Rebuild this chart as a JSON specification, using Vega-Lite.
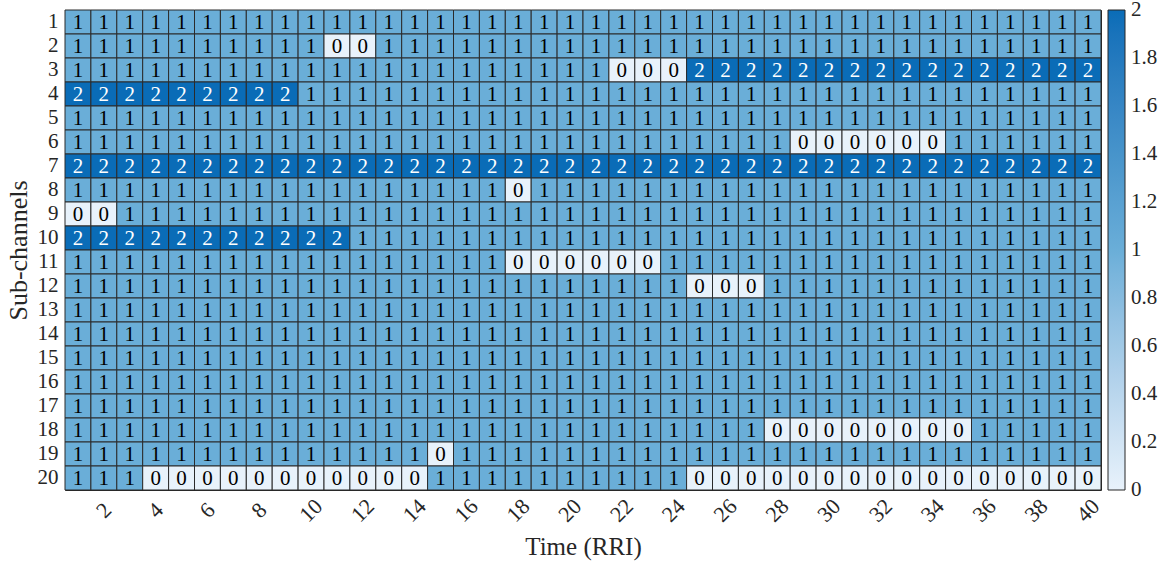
{
"$schema": "https://vega.github.io/schema/vega-lite/v6.json",
"width": 1036,
"height": 480,
"autosize": {"type": "none"},
"padding": {"left": 65, "top": 10, "right": 64, "bottom": 74},
"background": "white",
"config": {"view": {"stroke": "#262626", "strokeWidth": 1}, "font": "Liberation Serif"},
"data": {"values": [
{"t":1,"c":1,"v":1},{"t":2,"c":1,"v":1},{"t":3,"c":1,"v":1},{"t":4,"c":1,"v":1},{"t":5,"c":1,"v":1},{"t":6,"c":1,"v":1},{"t":7,"c":1,"v":1},{"t":8,"c":1,"v":1},{"t":9,"c":1,"v":1},{"t":10,"c":1,"v":1},{"t":11,"c":1,"v":1},{"t":12,"c":1,"v":1},{"t":13,"c":1,"v":1},{"t":14,"c":1,"v":1},{"t":15,"c":1,"v":1},{"t":16,"c":1,"v":1},{"t":17,"c":1,"v":1},{"t":18,"c":1,"v":1},{"t":19,"c":1,"v":1},{"t":20,"c":1,"v":1},{"t":21,"c":1,"v":1},{"t":22,"c":1,"v":1},{"t":23,"c":1,"v":1},{"t":24,"c":1,"v":1},{"t":25,"c":1,"v":1},{"t":26,"c":1,"v":1},{"t":27,"c":1,"v":1},{"t":28,"c":1,"v":1},{"t":29,"c":1,"v":1},{"t":30,"c":1,"v":1},{"t":31,"c":1,"v":1},{"t":32,"c":1,"v":1},{"t":33,"c":1,"v":1},{"t":34,"c":1,"v":1},{"t":35,"c":1,"v":1},{"t":36,"c":1,"v":1},{"t":37,"c":1,"v":1},{"t":38,"c":1,"v":1},{"t":39,"c":1,"v":1},{"t":40,"c":1,"v":1},
{"t":1,"c":2,"v":1},{"t":2,"c":2,"v":1},{"t":3,"c":2,"v":1},{"t":4,"c":2,"v":1},{"t":5,"c":2,"v":1},{"t":6,"c":2,"v":1},{"t":7,"c":2,"v":1},{"t":8,"c":2,"v":1},{"t":9,"c":2,"v":1},{"t":10,"c":2,"v":1},{"t":11,"c":2,"v":0},{"t":12,"c":2,"v":0},{"t":13,"c":2,"v":1},{"t":14,"c":2,"v":1},{"t":15,"c":2,"v":1},{"t":16,"c":2,"v":1},{"t":17,"c":2,"v":1},{"t":18,"c":2,"v":1},{"t":19,"c":2,"v":1},{"t":20,"c":2,"v":1},{"t":21,"c":2,"v":1},{"t":22,"c":2,"v":1},{"t":23,"c":2,"v":1},{"t":24,"c":2,"v":1},{"t":25,"c":2,"v":1},{"t":26,"c":2,"v":1},{"t":27,"c":2,"v":1},{"t":28,"c":2,"v":1},{"t":29,"c":2,"v":1},{"t":30,"c":2,"v":1},{"t":31,"c":2,"v":1},{"t":32,"c":2,"v":1},{"t":33,"c":2,"v":1},{"t":34,"c":2,"v":1},{"t":35,"c":2,"v":1},{"t":36,"c":2,"v":1},{"t":37,"c":2,"v":1},{"t":38,"c":2,"v":1},{"t":39,"c":2,"v":1},{"t":40,"c":2,"v":1},
{"t":1,"c":3,"v":1},{"t":2,"c":3,"v":1},{"t":3,"c":3,"v":1},{"t":4,"c":3,"v":1},{"t":5,"c":3,"v":1},{"t":6,"c":3,"v":1},{"t":7,"c":3,"v":1},{"t":8,"c":3,"v":1},{"t":9,"c":3,"v":1},{"t":10,"c":3,"v":1},{"t":11,"c":3,"v":1},{"t":12,"c":3,"v":1},{"t":13,"c":3,"v":1},{"t":14,"c":3,"v":1},{"t":15,"c":3,"v":1},{"t":16,"c":3,"v":1},{"t":17,"c":3,"v":1},{"t":18,"c":3,"v":1},{"t":19,"c":3,"v":1},{"t":20,"c":3,"v":1},{"t":21,"c":3,"v":1},{"t":22,"c":3,"v":0},{"t":23,"c":3,"v":0},{"t":24,"c":3,"v":0},{"t":25,"c":3,"v":2},{"t":26,"c":3,"v":2},{"t":27,"c":3,"v":2},{"t":28,"c":3,"v":2},{"t":29,"c":3,"v":2},{"t":30,"c":3,"v":2},{"t":31,"c":3,"v":2},{"t":32,"c":3,"v":2},{"t":33,"c":3,"v":2},{"t":34,"c":3,"v":2},{"t":35,"c":3,"v":2},{"t":36,"c":3,"v":2},{"t":37,"c":3,"v":2},{"t":38,"c":3,"v":2},{"t":39,"c":3,"v":2},{"t":40,"c":3,"v":2},
{"t":1,"c":4,"v":2},{"t":2,"c":4,"v":2},{"t":3,"c":4,"v":2},{"t":4,"c":4,"v":2},{"t":5,"c":4,"v":2},{"t":6,"c":4,"v":2},{"t":7,"c":4,"v":2},{"t":8,"c":4,"v":2},{"t":9,"c":4,"v":2},{"t":10,"c":4,"v":1},{"t":11,"c":4,"v":1},{"t":12,"c":4,"v":1},{"t":13,"c":4,"v":1},{"t":14,"c":4,"v":1},{"t":15,"c":4,"v":1},{"t":16,"c":4,"v":1},{"t":17,"c":4,"v":1},{"t":18,"c":4,"v":1},{"t":19,"c":4,"v":1},{"t":20,"c":4,"v":1},{"t":21,"c":4,"v":1},{"t":22,"c":4,"v":1},{"t":23,"c":4,"v":1},{"t":24,"c":4,"v":1},{"t":25,"c":4,"v":1},{"t":26,"c":4,"v":1},{"t":27,"c":4,"v":1},{"t":28,"c":4,"v":1},{"t":29,"c":4,"v":1},{"t":30,"c":4,"v":1},{"t":31,"c":4,"v":1},{"t":32,"c":4,"v":1},{"t":33,"c":4,"v":1},{"t":34,"c":4,"v":1},{"t":35,"c":4,"v":1},{"t":36,"c":4,"v":1},{"t":37,"c":4,"v":1},{"t":38,"c":4,"v":1},{"t":39,"c":4,"v":1},{"t":40,"c":4,"v":1},
{"t":1,"c":5,"v":1},{"t":2,"c":5,"v":1},{"t":3,"c":5,"v":1},{"t":4,"c":5,"v":1},{"t":5,"c":5,"v":1},{"t":6,"c":5,"v":1},{"t":7,"c":5,"v":1},{"t":8,"c":5,"v":1},{"t":9,"c":5,"v":1},{"t":10,"c":5,"v":1},{"t":11,"c":5,"v":1},{"t":12,"c":5,"v":1},{"t":13,"c":5,"v":1},{"t":14,"c":5,"v":1},{"t":15,"c":5,"v":1},{"t":16,"c":5,"v":1},{"t":17,"c":5,"v":1},{"t":18,"c":5,"v":1},{"t":19,"c":5,"v":1},{"t":20,"c":5,"v":1},{"t":21,"c":5,"v":1},{"t":22,"c":5,"v":1},{"t":23,"c":5,"v":1},{"t":24,"c":5,"v":1},{"t":25,"c":5,"v":1},{"t":26,"c":5,"v":1},{"t":27,"c":5,"v":1},{"t":28,"c":5,"v":1},{"t":29,"c":5,"v":1},{"t":30,"c":5,"v":1},{"t":31,"c":5,"v":1},{"t":32,"c":5,"v":1},{"t":33,"c":5,"v":1},{"t":34,"c":5,"v":1},{"t":35,"c":5,"v":1},{"t":36,"c":5,"v":1},{"t":37,"c":5,"v":1},{"t":38,"c":5,"v":1},{"t":39,"c":5,"v":1},{"t":40,"c":5,"v":1},
{"t":1,"c":6,"v":1},{"t":2,"c":6,"v":1},{"t":3,"c":6,"v":1},{"t":4,"c":6,"v":1},{"t":5,"c":6,"v":1},{"t":6,"c":6,"v":1},{"t":7,"c":6,"v":1},{"t":8,"c":6,"v":1},{"t":9,"c":6,"v":1},{"t":10,"c":6,"v":1},{"t":11,"c":6,"v":1},{"t":12,"c":6,"v":1},{"t":13,"c":6,"v":1},{"t":14,"c":6,"v":1},{"t":15,"c":6,"v":1},{"t":16,"c":6,"v":1},{"t":17,"c":6,"v":1},{"t":18,"c":6,"v":1},{"t":19,"c":6,"v":1},{"t":20,"c":6,"v":1},{"t":21,"c":6,"v":1},{"t":22,"c":6,"v":1},{"t":23,"c":6,"v":1},{"t":24,"c":6,"v":1},{"t":25,"c":6,"v":1},{"t":26,"c":6,"v":1},{"t":27,"c":6,"v":1},{"t":28,"c":6,"v":1},{"t":29,"c":6,"v":0},{"t":30,"c":6,"v":0},{"t":31,"c":6,"v":0},{"t":32,"c":6,"v":0},{"t":33,"c":6,"v":0},{"t":34,"c":6,"v":0},{"t":35,"c":6,"v":1},{"t":36,"c":6,"v":1},{"t":37,"c":6,"v":1},{"t":38,"c":6,"v":1},{"t":39,"c":6,"v":1},{"t":40,"c":6,"v":1},
{"t":1,"c":7,"v":2},{"t":2,"c":7,"v":2},{"t":3,"c":7,"v":2},{"t":4,"c":7,"v":2},{"t":5,"c":7,"v":2},{"t":6,"c":7,"v":2},{"t":7,"c":7,"v":2},{"t":8,"c":7,"v":2},{"t":9,"c":7,"v":2},{"t":10,"c":7,"v":2},{"t":11,"c":7,"v":2},{"t":12,"c":7,"v":2},{"t":13,"c":7,"v":2},{"t":14,"c":7,"v":2},{"t":15,"c":7,"v":2},{"t":16,"c":7,"v":2},{"t":17,"c":7,"v":2},{"t":18,"c":7,"v":2},{"t":19,"c":7,"v":2},{"t":20,"c":7,"v":2},{"t":21,"c":7,"v":2},{"t":22,"c":7,"v":2},{"t":23,"c":7,"v":2},{"t":24,"c":7,"v":2},{"t":25,"c":7,"v":2},{"t":26,"c":7,"v":2},{"t":27,"c":7,"v":2},{"t":28,"c":7,"v":2},{"t":29,"c":7,"v":2},{"t":30,"c":7,"v":2},{"t":31,"c":7,"v":2},{"t":32,"c":7,"v":2},{"t":33,"c":7,"v":2},{"t":34,"c":7,"v":2},{"t":35,"c":7,"v":2},{"t":36,"c":7,"v":2},{"t":37,"c":7,"v":2},{"t":38,"c":7,"v":2},{"t":39,"c":7,"v":2},{"t":40,"c":7,"v":2},
{"t":1,"c":8,"v":1},{"t":2,"c":8,"v":1},{"t":3,"c":8,"v":1},{"t":4,"c":8,"v":1},{"t":5,"c":8,"v":1},{"t":6,"c":8,"v":1},{"t":7,"c":8,"v":1},{"t":8,"c":8,"v":1},{"t":9,"c":8,"v":1},{"t":10,"c":8,"v":1},{"t":11,"c":8,"v":1},{"t":12,"c":8,"v":1},{"t":13,"c":8,"v":1},{"t":14,"c":8,"v":1},{"t":15,"c":8,"v":1},{"t":16,"c":8,"v":1},{"t":17,"c":8,"v":1},{"t":18,"c":8,"v":0},{"t":19,"c":8,"v":1},{"t":20,"c":8,"v":1},{"t":21,"c":8,"v":1},{"t":22,"c":8,"v":1},{"t":23,"c":8,"v":1},{"t":24,"c":8,"v":1},{"t":25,"c":8,"v":1},{"t":26,"c":8,"v":1},{"t":27,"c":8,"v":1},{"t":28,"c":8,"v":1},{"t":29,"c":8,"v":1},{"t":30,"c":8,"v":1},{"t":31,"c":8,"v":1},{"t":32,"c":8,"v":1},{"t":33,"c":8,"v":1},{"t":34,"c":8,"v":1},{"t":35,"c":8,"v":1},{"t":36,"c":8,"v":1},{"t":37,"c":8,"v":1},{"t":38,"c":8,"v":1},{"t":39,"c":8,"v":1},{"t":40,"c":8,"v":1},
{"t":1,"c":9,"v":0},{"t":2,"c":9,"v":0},{"t":3,"c":9,"v":1},{"t":4,"c":9,"v":1},{"t":5,"c":9,"v":1},{"t":6,"c":9,"v":1},{"t":7,"c":9,"v":1},{"t":8,"c":9,"v":1},{"t":9,"c":9,"v":1},{"t":10,"c":9,"v":1},{"t":11,"c":9,"v":1},{"t":12,"c":9,"v":1},{"t":13,"c":9,"v":1},{"t":14,"c":9,"v":1},{"t":15,"c":9,"v":1},{"t":16,"c":9,"v":1},{"t":17,"c":9,"v":1},{"t":18,"c":9,"v":1},{"t":19,"c":9,"v":1},{"t":20,"c":9,"v":1},{"t":21,"c":9,"v":1},{"t":22,"c":9,"v":1},{"t":23,"c":9,"v":1},{"t":24,"c":9,"v":1},{"t":25,"c":9,"v":1},{"t":26,"c":9,"v":1},{"t":27,"c":9,"v":1},{"t":28,"c":9,"v":1},{"t":29,"c":9,"v":1},{"t":30,"c":9,"v":1},{"t":31,"c":9,"v":1},{"t":32,"c":9,"v":1},{"t":33,"c":9,"v":1},{"t":34,"c":9,"v":1},{"t":35,"c":9,"v":1},{"t":36,"c":9,"v":1},{"t":37,"c":9,"v":1},{"t":38,"c":9,"v":1},{"t":39,"c":9,"v":1},{"t":40,"c":9,"v":1},
{"t":1,"c":10,"v":2},{"t":2,"c":10,"v":2},{"t":3,"c":10,"v":2},{"t":4,"c":10,"v":2},{"t":5,"c":10,"v":2},{"t":6,"c":10,"v":2},{"t":7,"c":10,"v":2},{"t":8,"c":10,"v":2},{"t":9,"c":10,"v":2},{"t":10,"c":10,"v":2},{"t":11,"c":10,"v":2},{"t":12,"c":10,"v":1},{"t":13,"c":10,"v":1},{"t":14,"c":10,"v":1},{"t":15,"c":10,"v":1},{"t":16,"c":10,"v":1},{"t":17,"c":10,"v":1},{"t":18,"c":10,"v":1},{"t":19,"c":10,"v":1},{"t":20,"c":10,"v":1},{"t":21,"c":10,"v":1},{"t":22,"c":10,"v":1},{"t":23,"c":10,"v":1},{"t":24,"c":10,"v":1},{"t":25,"c":10,"v":1},{"t":26,"c":10,"v":1},{"t":27,"c":10,"v":1},{"t":28,"c":10,"v":1},{"t":29,"c":10,"v":1},{"t":30,"c":10,"v":1},{"t":31,"c":10,"v":1},{"t":32,"c":10,"v":1},{"t":33,"c":10,"v":1},{"t":34,"c":10,"v":1},{"t":35,"c":10,"v":1},{"t":36,"c":10,"v":1},{"t":37,"c":10,"v":1},{"t":38,"c":10,"v":1},{"t":39,"c":10,"v":1},{"t":40,"c":10,"v":1},
{"t":1,"c":11,"v":1},{"t":2,"c":11,"v":1},{"t":3,"c":11,"v":1},{"t":4,"c":11,"v":1},{"t":5,"c":11,"v":1},{"t":6,"c":11,"v":1},{"t":7,"c":11,"v":1},{"t":8,"c":11,"v":1},{"t":9,"c":11,"v":1},{"t":10,"c":11,"v":1},{"t":11,"c":11,"v":1},{"t":12,"c":11,"v":1},{"t":13,"c":11,"v":1},{"t":14,"c":11,"v":1},{"t":15,"c":11,"v":1},{"t":16,"c":11,"v":1},{"t":17,"c":11,"v":1},{"t":18,"c":11,"v":0},{"t":19,"c":11,"v":0},{"t":20,"c":11,"v":0},{"t":21,"c":11,"v":0},{"t":22,"c":11,"v":0},{"t":23,"c":11,"v":0},{"t":24,"c":11,"v":1},{"t":25,"c":11,"v":1},{"t":26,"c":11,"v":1},{"t":27,"c":11,"v":1},{"t":28,"c":11,"v":1},{"t":29,"c":11,"v":1},{"t":30,"c":11,"v":1},{"t":31,"c":11,"v":1},{"t":32,"c":11,"v":1},{"t":33,"c":11,"v":1},{"t":34,"c":11,"v":1},{"t":35,"c":11,"v":1},{"t":36,"c":11,"v":1},{"t":37,"c":11,"v":1},{"t":38,"c":11,"v":1},{"t":39,"c":11,"v":1},{"t":40,"c":11,"v":1},
{"t":1,"c":12,"v":1},{"t":2,"c":12,"v":1},{"t":3,"c":12,"v":1},{"t":4,"c":12,"v":1},{"t":5,"c":12,"v":1},{"t":6,"c":12,"v":1},{"t":7,"c":12,"v":1},{"t":8,"c":12,"v":1},{"t":9,"c":12,"v":1},{"t":10,"c":12,"v":1},{"t":11,"c":12,"v":1},{"t":12,"c":12,"v":1},{"t":13,"c":12,"v":1},{"t":14,"c":12,"v":1},{"t":15,"c":12,"v":1},{"t":16,"c":12,"v":1},{"t":17,"c":12,"v":1},{"t":18,"c":12,"v":1},{"t":19,"c":12,"v":1},{"t":20,"c":12,"v":1},{"t":21,"c":12,"v":1},{"t":22,"c":12,"v":1},{"t":23,"c":12,"v":1},{"t":24,"c":12,"v":1},{"t":25,"c":12,"v":0},{"t":26,"c":12,"v":0},{"t":27,"c":12,"v":0},{"t":28,"c":12,"v":1},{"t":29,"c":12,"v":1},{"t":30,"c":12,"v":1},{"t":31,"c":12,"v":1},{"t":32,"c":12,"v":1},{"t":33,"c":12,"v":1},{"t":34,"c":12,"v":1},{"t":35,"c":12,"v":1},{"t":36,"c":12,"v":1},{"t":37,"c":12,"v":1},{"t":38,"c":12,"v":1},{"t":39,"c":12,"v":1},{"t":40,"c":12,"v":1},
{"t":1,"c":13,"v":1},{"t":2,"c":13,"v":1},{"t":3,"c":13,"v":1},{"t":4,"c":13,"v":1},{"t":5,"c":13,"v":1},{"t":6,"c":13,"v":1},{"t":7,"c":13,"v":1},{"t":8,"c":13,"v":1},{"t":9,"c":13,"v":1},{"t":10,"c":13,"v":1},{"t":11,"c":13,"v":1},{"t":12,"c":13,"v":1},{"t":13,"c":13,"v":1},{"t":14,"c":13,"v":1},{"t":15,"c":13,"v":1},{"t":16,"c":13,"v":1},{"t":17,"c":13,"v":1},{"t":18,"c":13,"v":1},{"t":19,"c":13,"v":1},{"t":20,"c":13,"v":1},{"t":21,"c":13,"v":1},{"t":22,"c":13,"v":1},{"t":23,"c":13,"v":1},{"t":24,"c":13,"v":1},{"t":25,"c":13,"v":1},{"t":26,"c":13,"v":1},{"t":27,"c":13,"v":1},{"t":28,"c":13,"v":1},{"t":29,"c":13,"v":1},{"t":30,"c":13,"v":1},{"t":31,"c":13,"v":1},{"t":32,"c":13,"v":1},{"t":33,"c":13,"v":1},{"t":34,"c":13,"v":1},{"t":35,"c":13,"v":1},{"t":36,"c":13,"v":1},{"t":37,"c":13,"v":1},{"t":38,"c":13,"v":1},{"t":39,"c":13,"v":1},{"t":40,"c":13,"v":1},
{"t":1,"c":14,"v":1},{"t":2,"c":14,"v":1},{"t":3,"c":14,"v":1},{"t":4,"c":14,"v":1},{"t":5,"c":14,"v":1},{"t":6,"c":14,"v":1},{"t":7,"c":14,"v":1},{"t":8,"c":14,"v":1},{"t":9,"c":14,"v":1},{"t":10,"c":14,"v":1},{"t":11,"c":14,"v":1},{"t":12,"c":14,"v":1},{"t":13,"c":14,"v":1},{"t":14,"c":14,"v":1},{"t":15,"c":14,"v":1},{"t":16,"c":14,"v":1},{"t":17,"c":14,"v":1},{"t":18,"c":14,"v":1},{"t":19,"c":14,"v":1},{"t":20,"c":14,"v":1},{"t":21,"c":14,"v":1},{"t":22,"c":14,"v":1},{"t":23,"c":14,"v":1},{"t":24,"c":14,"v":1},{"t":25,"c":14,"v":1},{"t":26,"c":14,"v":1},{"t":27,"c":14,"v":1},{"t":28,"c":14,"v":1},{"t":29,"c":14,"v":1},{"t":30,"c":14,"v":1},{"t":31,"c":14,"v":1},{"t":32,"c":14,"v":1},{"t":33,"c":14,"v":1},{"t":34,"c":14,"v":1},{"t":35,"c":14,"v":1},{"t":36,"c":14,"v":1},{"t":37,"c":14,"v":1},{"t":38,"c":14,"v":1},{"t":39,"c":14,"v":1},{"t":40,"c":14,"v":1},
{"t":1,"c":15,"v":1},{"t":2,"c":15,"v":1},{"t":3,"c":15,"v":1},{"t":4,"c":15,"v":1},{"t":5,"c":15,"v":1},{"t":6,"c":15,"v":1},{"t":7,"c":15,"v":1},{"t":8,"c":15,"v":1},{"t":9,"c":15,"v":1},{"t":10,"c":15,"v":1},{"t":11,"c":15,"v":1},{"t":12,"c":15,"v":1},{"t":13,"c":15,"v":1},{"t":14,"c":15,"v":1},{"t":15,"c":15,"v":1},{"t":16,"c":15,"v":1},{"t":17,"c":15,"v":1},{"t":18,"c":15,"v":1},{"t":19,"c":15,"v":1},{"t":20,"c":15,"v":1},{"t":21,"c":15,"v":1},{"t":22,"c":15,"v":1},{"t":23,"c":15,"v":1},{"t":24,"c":15,"v":1},{"t":25,"c":15,"v":1},{"t":26,"c":15,"v":1},{"t":27,"c":15,"v":1},{"t":28,"c":15,"v":1},{"t":29,"c":15,"v":1},{"t":30,"c":15,"v":1},{"t":31,"c":15,"v":1},{"t":32,"c":15,"v":1},{"t":33,"c":15,"v":1},{"t":34,"c":15,"v":1},{"t":35,"c":15,"v":1},{"t":36,"c":15,"v":1},{"t":37,"c":15,"v":1},{"t":38,"c":15,"v":1},{"t":39,"c":15,"v":1},{"t":40,"c":15,"v":1},
{"t":1,"c":16,"v":1},{"t":2,"c":16,"v":1},{"t":3,"c":16,"v":1},{"t":4,"c":16,"v":1},{"t":5,"c":16,"v":1},{"t":6,"c":16,"v":1},{"t":7,"c":16,"v":1},{"t":8,"c":16,"v":1},{"t":9,"c":16,"v":1},{"t":10,"c":16,"v":1},{"t":11,"c":16,"v":1},{"t":12,"c":16,"v":1},{"t":13,"c":16,"v":1},{"t":14,"c":16,"v":1},{"t":15,"c":16,"v":1},{"t":16,"c":16,"v":1},{"t":17,"c":16,"v":1},{"t":18,"c":16,"v":1},{"t":19,"c":16,"v":1},{"t":20,"c":16,"v":1},{"t":21,"c":16,"v":1},{"t":22,"c":16,"v":1},{"t":23,"c":16,"v":1},{"t":24,"c":16,"v":1},{"t":25,"c":16,"v":1},{"t":26,"c":16,"v":1},{"t":27,"c":16,"v":1},{"t":28,"c":16,"v":1},{"t":29,"c":16,"v":1},{"t":30,"c":16,"v":1},{"t":31,"c":16,"v":1},{"t":32,"c":16,"v":1},{"t":33,"c":16,"v":1},{"t":34,"c":16,"v":1},{"t":35,"c":16,"v":1},{"t":36,"c":16,"v":1},{"t":37,"c":16,"v":1},{"t":38,"c":16,"v":1},{"t":39,"c":16,"v":1},{"t":40,"c":16,"v":1},
{"t":1,"c":17,"v":1},{"t":2,"c":17,"v":1},{"t":3,"c":17,"v":1},{"t":4,"c":17,"v":1},{"t":5,"c":17,"v":1},{"t":6,"c":17,"v":1},{"t":7,"c":17,"v":1},{"t":8,"c":17,"v":1},{"t":9,"c":17,"v":1},{"t":10,"c":17,"v":1},{"t":11,"c":17,"v":1},{"t":12,"c":17,"v":1},{"t":13,"c":17,"v":1},{"t":14,"c":17,"v":1},{"t":15,"c":17,"v":1},{"t":16,"c":17,"v":1},{"t":17,"c":17,"v":1},{"t":18,"c":17,"v":1},{"t":19,"c":17,"v":1},{"t":20,"c":17,"v":1},{"t":21,"c":17,"v":1},{"t":22,"c":17,"v":1},{"t":23,"c":17,"v":1},{"t":24,"c":17,"v":1},{"t":25,"c":17,"v":1},{"t":26,"c":17,"v":1},{"t":27,"c":17,"v":1},{"t":28,"c":17,"v":1},{"t":29,"c":17,"v":1},{"t":30,"c":17,"v":1},{"t":31,"c":17,"v":1},{"t":32,"c":17,"v":1},{"t":33,"c":17,"v":1},{"t":34,"c":17,"v":1},{"t":35,"c":17,"v":1},{"t":36,"c":17,"v":1},{"t":37,"c":17,"v":1},{"t":38,"c":17,"v":1},{"t":39,"c":17,"v":1},{"t":40,"c":17,"v":1},
{"t":1,"c":18,"v":1},{"t":2,"c":18,"v":1},{"t":3,"c":18,"v":1},{"t":4,"c":18,"v":1},{"t":5,"c":18,"v":1},{"t":6,"c":18,"v":1},{"t":7,"c":18,"v":1},{"t":8,"c":18,"v":1},{"t":9,"c":18,"v":1},{"t":10,"c":18,"v":1},{"t":11,"c":18,"v":1},{"t":12,"c":18,"v":1},{"t":13,"c":18,"v":1},{"t":14,"c":18,"v":1},{"t":15,"c":18,"v":1},{"t":16,"c":18,"v":1},{"t":17,"c":18,"v":1},{"t":18,"c":18,"v":1},{"t":19,"c":18,"v":1},{"t":20,"c":18,"v":1},{"t":21,"c":18,"v":1},{"t":22,"c":18,"v":1},{"t":23,"c":18,"v":1},{"t":24,"c":18,"v":1},{"t":25,"c":18,"v":1},{"t":26,"c":18,"v":1},{"t":27,"c":18,"v":1},{"t":28,"c":18,"v":0},{"t":29,"c":18,"v":0},{"t":30,"c":18,"v":0},{"t":31,"c":18,"v":0},{"t":32,"c":18,"v":0},{"t":33,"c":18,"v":0},{"t":34,"c":18,"v":0},{"t":35,"c":18,"v":0},{"t":36,"c":18,"v":1},{"t":37,"c":18,"v":1},{"t":38,"c":18,"v":1},{"t":39,"c":18,"v":1},{"t":40,"c":18,"v":1},
{"t":1,"c":19,"v":1},{"t":2,"c":19,"v":1},{"t":3,"c":19,"v":1},{"t":4,"c":19,"v":1},{"t":5,"c":19,"v":1},{"t":6,"c":19,"v":1},{"t":7,"c":19,"v":1},{"t":8,"c":19,"v":1},{"t":9,"c":19,"v":1},{"t":10,"c":19,"v":1},{"t":11,"c":19,"v":1},{"t":12,"c":19,"v":1},{"t":13,"c":19,"v":1},{"t":14,"c":19,"v":1},{"t":15,"c":19,"v":0},{"t":16,"c":19,"v":1},{"t":17,"c":19,"v":1},{"t":18,"c":19,"v":1},{"t":19,"c":19,"v":1},{"t":20,"c":19,"v":1},{"t":21,"c":19,"v":1},{"t":22,"c":19,"v":1},{"t":23,"c":19,"v":1},{"t":24,"c":19,"v":1},{"t":25,"c":19,"v":1},{"t":26,"c":19,"v":1},{"t":27,"c":19,"v":1},{"t":28,"c":19,"v":1},{"t":29,"c":19,"v":1},{"t":30,"c":19,"v":1},{"t":31,"c":19,"v":1},{"t":32,"c":19,"v":1},{"t":33,"c":19,"v":1},{"t":34,"c":19,"v":1},{"t":35,"c":19,"v":1},{"t":36,"c":19,"v":1},{"t":37,"c":19,"v":1},{"t":38,"c":19,"v":1},{"t":39,"c":19,"v":1},{"t":40,"c":19,"v":1},
{"t":1,"c":20,"v":1},{"t":2,"c":20,"v":1},{"t":3,"c":20,"v":1},{"t":4,"c":20,"v":0},{"t":5,"c":20,"v":0},{"t":6,"c":20,"v":0},{"t":7,"c":20,"v":0},{"t":8,"c":20,"v":0},{"t":9,"c":20,"v":0},{"t":10,"c":20,"v":0},{"t":11,"c":20,"v":0},{"t":12,"c":20,"v":0},{"t":13,"c":20,"v":0},{"t":14,"c":20,"v":0},{"t":15,"c":20,"v":1},{"t":16,"c":20,"v":1},{"t":17,"c":20,"v":1},{"t":18,"c":20,"v":1},{"t":19,"c":20,"v":1},{"t":20,"c":20,"v":1},{"t":21,"c":20,"v":1},{"t":22,"c":20,"v":1},{"t":23,"c":20,"v":1},{"t":24,"c":20,"v":1},{"t":25,"c":20,"v":0},{"t":26,"c":20,"v":0},{"t":27,"c":20,"v":0},{"t":28,"c":20,"v":0},{"t":29,"c":20,"v":0},{"t":30,"c":20,"v":0},{"t":31,"c":20,"v":0},{"t":32,"c":20,"v":0},{"t":33,"c":20,"v":0},{"t":34,"c":20,"v":0},{"t":35,"c":20,"v":0},{"t":36,"c":20,"v":0},{"t":37,"c":20,"v":0},{"t":38,"c":20,"v":0},{"t":39,"c":20,"v":0},{"t":40,"c":20,"v":0}
]},
"encoding": {
  "x": {"field": "t", "type": "ordinal", "scale": {"paddingInner": 0, "paddingOuter": 0},
    "axis": {"values": [2,4,6,8,10,12,14,16,18,20,22,24,26,28,30,32,34,36,38,40], "labelAngle": -45, "labelAlign": "center", "labelBaseline": "middle", "labelPadding": 20, "ticks": false, "domain": false, "labelFont": "Liberation Serif", "labelFontSize": 22, "labelColor": "#262626", "title": "Time (RRI)", "titleFont": "Liberation Serif", "titleFontSize": 25, "titleFontWeight": "normal", "titleColor": "#262626", "titleBaseline": "alphabetic", "titleY": 64}},
  "y": {"field": "c", "type": "ordinal", "scale": {"paddingInner": 0, "paddingOuter": 0},
    "axis": {"ticks": false, "domain": false, "labelPadding": 7, "labelFont": "Liberation Serif", "labelFontSize": 21, "labelColor": "#262626", "title": "Sub-channels", "titleFont": "Liberation Serif", "titleFontSize": 26, "titleFontWeight": "normal", "titleColor": "#262626", "titleBaseline": "middle", "titleX": -47, "titleY": 240}}
},
"layer": [
  {"mark": {"type": "rect", "stroke": "#2b2b2b", "strokeWidth": 1},
   "encoding": {"color": {"field": "v", "type": "quantitative",
     "scale": {"domain": [0, 1, 2], "range": ["#e8f2fb", "#6aaed8", "#0a6cb7"]},
     "legend": {"orient": "none", "legendX": 1043, "legendY": 0, "direction": "vertical", "gradientLength": 480, "gradientThickness": 17, "title": null, "values": [0,0.2,0.4,0.6,0.8,1,1.2,1.4,1.6,1.8,2], "format": ".1~f", "labelFont": "Liberation Serif", "labelFontSize": 21, "labelColor": "#262626", "labelOffset": 6, "labelBaseline": "middle", "gradientStrokeColor": "#262626", "gradientStrokeWidth": 1,
       "encode": {"labels": {"update": {"baseline": {"value": "middle"}}}}}}}},
  {"mark": {"type": "text", "font": "Liberation Serif", "fontSize": 21, "baseline": "middle", "dy": 1},
   "encoding": {"text": {"field": "v", "type": "quantitative"},
     "color": {"condition": {"test": "datum.v == 2", "value": "#ffffff"}, "value": "#000000"}}}
]
}
